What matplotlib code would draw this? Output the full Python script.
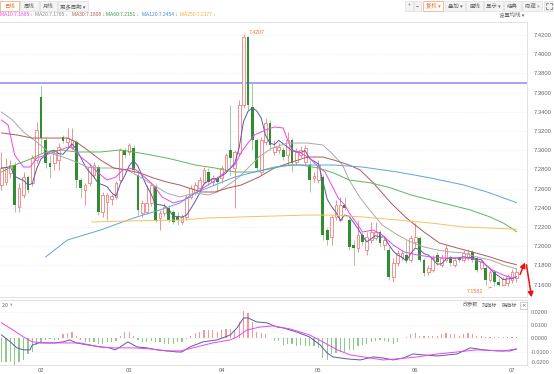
import numpy as np
import pandas as pd
import matplotlib
matplotlib.use("Agg")
from matplotlib import pyplot as plt
from matplotlib.patches import Rectangle, FancyArrowPatch
from matplotlib.lines import Line2D

plt.rcParams['font.family'] = ['Noto Sans CJK SC', 'DejaVu Sans']

# daily candles (Jan 2025 .. early Jul 2025)
opens = [7.2638, 7.2669, 7.2763, 7.2846, 7.2409, 7.2534, 7.2721, 7.2659, 7.2898, 7.3555,
         7.3107, 7.2867, 7.2867, 7.2898, 7.3138, 7.3086, 7.3023, 7.3086, 7.2690, 7.2586,
         7.2659, 7.2742, 7.2825, 7.2357, 7.2461, 7.2492, 7.2513, 7.2690, 7.3003, 7.2982,
         7.3023, 7.2742, 7.2346, 7.2357, 7.2451, 7.2617, 7.2294, 7.2346, 7.2398, 7.2357,
         7.2305, 7.2253, 7.2305, 7.2513, 7.2565, 7.2607, 7.2669, 7.2773, 7.2669, 7.2711,
         7.2711, 7.2794, 7.3003, 7.2815, 7.2971, 7.3471, 7.4180, 7.3450, 7.3107, 7.2773,
         7.3086, 7.3284, 7.2982, 7.3003, 7.3003, 7.2950, 7.3107, 7.2877, 7.2950, 7.2877,
         7.2846, 7.2711, 7.2690, 7.2721, 7.2169, 7.2096, 7.2305, 7.2273, 7.2430, 7.2273,
         7.2013, 7.1982, 7.2117, 7.1961, 7.2065, 7.2086, 7.2148, 7.2013, 7.1961, 7.1680,
         7.1825, 7.1888, 7.1909, 7.1857, 7.2044, 7.2086, 7.1857, 7.1732, 7.1753, 7.1909,
         7.1805, 7.1857, 7.1888, 7.1805, 7.1877, 7.1857, 7.1877, 7.1940, 7.1877, 7.1773,
         7.1773, 7.1648, 7.1732, 7.1627, 7.1596, 7.1617, 7.1648, 7.1669]
closes = [7.2815, 7.2825, 7.2846, 7.2430, 7.2607, 7.2721, 7.2586, 7.2919, 7.3211, 7.3127,
          7.2867, 7.2825, 7.2971, 7.3034, 7.3096, 7.3127, 7.3107, 7.2690, 7.2607, 7.2638,
          7.2825, 7.2846, 7.2357, 7.2534, 7.2534, 7.2523, 7.2659, 7.3003, 7.2950, 7.3055,
          7.2794, 7.2378, 7.2451, 7.2451, 7.2638, 7.2273, 7.2346, 7.2409, 7.2273, 7.2253,
          7.2273, 7.2305, 7.2513, 7.2607, 7.2638, 7.2690, 7.2794, 7.2669, 7.2711, 7.2669,
          7.2815, 7.2950, 7.2919, 7.2982, 7.3471, 7.4180, 7.3471, 7.3107, 7.2815, 7.3107,
          7.3284, 7.3055, 7.3034, 7.3034, 7.2929, 7.3107, 7.2867, 7.2982, 7.3003, 7.3023,
          7.2690, 7.2732, 7.2846, 7.2117, 7.2065, 7.2305, 7.2430, 7.2430, 7.2398, 7.1992,
          7.1982, 7.2117, 7.2044, 7.2096, 7.2148, 7.2148, 7.2034, 7.2065, 7.1680, 7.1825,
          7.1930, 7.1930, 7.1857, 7.2086, 7.2096, 7.1857, 7.1721, 7.1773, 7.1877, 7.1836,
          7.1877, 7.1982, 7.1825, 7.1857, 7.1857, 7.1930, 7.1930, 7.1857, 7.1753, 7.1836,
          7.1648, 7.1732, 7.1627, 7.1596, 7.1659, 7.1690, 7.1732, 7.1732]
highs = [7.2982, 7.2919, 7.2898, 7.2877, 7.2659, 7.2773, 7.2742, 7.2950, 7.3294, 7.3669,
         7.3138, 7.2950, 7.3003, 7.3075, 7.3159, 7.3232, 7.3232, 7.3107, 7.2711, 7.2659,
         7.2867, 7.2877, 7.2846, 7.2565, 7.2555, 7.2544, 7.2680, 7.3023, 7.3023, 7.3075,
         7.3055, 7.2794, 7.2482, 7.2638, 7.2669, 7.2659, 7.2378, 7.2451, 7.2430, 7.2378,
         7.2357, 7.2336, 7.2534, 7.2638, 7.2669, 7.2721, 7.2825, 7.2815, 7.2742, 7.2732,
         7.2846, 7.2971, 7.3471, 7.3003, 7.3523, 7.4207, 7.4190, 7.3700, 7.3127, 7.3138,
         7.3336, 7.3315, 7.3107, 7.3075, 7.3034, 7.3190, 7.3127, 7.3023, 7.3044, 7.3055,
         7.2898, 7.2773, 7.2898, 7.2742, 7.2190, 7.2326, 7.2482, 7.2513, 7.2513, 7.2294,
         7.2065, 7.2273, 7.2148, 7.2148, 7.2253, 7.2253, 7.2169, 7.2096, 7.1992, 7.1877,
         7.1961, 7.1961, 7.2065, 7.2117, 7.2242, 7.2107, 7.1877, 7.1805, 7.1909, 7.1940,
         7.1919, 7.2013, 7.1909, 7.1888, 7.1898, 7.1961, 7.1961, 7.1961, 7.1898, 7.1857,
         7.1794, 7.1753, 7.1753, 7.1669, 7.1680, 7.1711, 7.1763, 7.1773]
lows = [7.2586, 7.2638, 7.2711, 7.2357, 7.2357, 7.2503, 7.2555, 7.2628, 7.2867, 7.2971,
        7.2815, 7.2711, 7.2794, 7.2794, 7.3075, 7.3034, 7.3003, 7.2607, 7.2503, 7.2430,
        7.2628, 7.2711, 7.2326, 7.2305, 7.2273, 7.2430, 7.2492, 7.2669, 7.2919, 7.2950,
        7.2763, 7.2326, 7.2305, 7.2336, 7.2419, 7.2253, 7.2169, 7.2315, 7.2253, 7.2232,
        7.2221, 7.2232, 7.2273, 7.2492, 7.2534, 7.2586, 7.2648, 7.2638, 7.2638, 7.2565,
        7.2659, 7.2773, 7.2742, 7.2398, 7.2940, 7.3440, 7.3419, 7.3003, 7.2773, 7.2742,
        7.3055, 7.3003, 7.2950, 7.2971, 7.2898, 7.2846, 7.2773, 7.2846, 7.2919, 7.2846,
        7.2565, 7.2669, 7.2659, 7.2065, 7.2013, 7.2013, 7.2273, 7.2253, 7.2378, 7.1961,
        7.1805, 7.1940, 7.2013, 7.1909, 7.2034, 7.2065, 7.2003, 7.1961, 7.1648, 7.1627,
        7.1794, 7.1857, 7.1825, 7.1836, 7.1992, 7.1836, 7.1690, 7.1700, 7.1732, 7.1805,
        7.1784, 7.1836, 7.1794, 7.1784, 7.1836, 7.1836, 7.1857, 7.1836, 7.1732, 7.1753,
        7.1596, 7.1627, 7.1582, 7.1586, 7.1586, 7.1586, 7.1617, 7.1627]

# moving averages (candle index, price)
ma10_idx = [0, 1.5, 3, 5, 6.5, 8, 10, 12, 14.5, 16, 18, 19.5, 22, 24, 26, 27.5, 30, 32, 34.5,
            36.5, 39, 41.5, 44, 48, 50.5, 53, 54.5, 56, 57.5, 60, 62, 64, 65, 66, 67.5, 70,
            72, 73.5, 75, 76.5, 78, 79, 81, 82, 84.5, 86.5, 89, 91.5, 94.5, 97.5, 100.5,
            103.5, 106.5, 109.5, 111.5, 114, 116, 117]
ma10_val = [7.3315, 7.3263, 7.2950, 7.2825, 7.2825, 7.2919, 7.2950, 7.2982, 7.3023, 7.3034,
            7.2929, 7.2877, 7.2763, 7.2690, 7.2721, 7.2794, 7.2815, 7.2742, 7.2638, 7.2513,
            7.2451, 7.2482, 7.2555, 7.2669, 7.2763, 7.2846, 7.2982, 7.3075, 7.3159, 7.3211,
            7.3242, 7.3232, 7.3107, 7.3003, 7.2982, 7.2919, 7.2825, 7.2773, 7.2638, 7.2503,
            7.2430, 7.2346, 7.2221, 7.2148, 7.2169, 7.2117, 7.2013, 7.1940, 7.1909, 7.1888,
            7.1877, 7.1877, 7.1877, 7.1825, 7.1753, 7.1700, 7.1669, 7.1685]
ma20_idx = [0, 2.5, 5, 8, 11, 14, 17, 19.5, 22.5, 25.5, 28.5, 31.5, 34.5, 37.5, 40.5, 44, 47,
            49, 51.5, 54, 56, 58.5, 61.5, 65, 69.5, 73, 75, 77.5, 79, 81.5, 84, 86.5, 90, 93,
            96, 99, 102, 105, 108, 111, 114, 117]
ma20_val = [7.3398, 7.3315, 7.3190, 7.3086, 7.2971, 7.2929, 7.2877, 7.2825, 7.2815, 7.2815,
            7.2794, 7.2721, 7.2638, 7.2555, 7.2513, 7.2555, 7.2534, 7.2565, 7.2638, 7.2721,
            7.2815, 7.2930, 7.3023, 7.3075, 7.3075, 7.3055, 7.2971, 7.2846, 7.2690, 7.2503,
            7.2357, 7.2221, 7.2117, 7.2044, 7.1992, 7.1961, 7.1940, 7.1930, 7.1888, 7.1857,
            7.1805, 7.1765]
ma30_idx = [0, 3.5, 7, 11, 15, 17, 19.5, 22.5, 25.5, 28.5, 31.5, 34.5, 37.5, 40.5, 42.5, 45.5,
            48.5, 51.5, 54.5, 58.5, 62, 66, 69.5, 73, 75.5, 79, 81.5, 84.5, 88.5, 92, 96, 99.5,
            103.5, 107, 111, 114.5, 117]
ma30_val = [7.3180, 7.3159, 7.3127, 7.3127, 7.3127, 7.3086, 7.3003, 7.2898, 7.2815, 7.2794,
            7.2763, 7.2711, 7.2669, 7.2638, 7.2607, 7.2565, 7.2565, 7.2607, 7.2638, 7.2721,
            7.2815, 7.2877, 7.2929, 7.2929, 7.2898, 7.2846, 7.2794, 7.2659, 7.2450, 7.2294,
            7.2148, 7.2034, 7.1982, 7.1940, 7.1888, 7.1836, 7.1808]
ma60_idx = [0, 3, 6, 9.5, 13.5, 17, 22.5, 27, 30, 34, 37.5, 39.5, 44, 48.5, 53, 57.5, 62, 65,
            68, 72, 75.5, 79, 84, 88.5, 93, 97.5, 102, 106.5, 111, 114, 116.5, 117]
ma60_val = [7.2773, 7.2846, 7.2898, 7.2971, 7.3003, 7.2982, 7.2982, 7.3003, 7.2982, 7.2950,
            7.2919, 7.2898, 7.2846, 7.2815, 7.2773, 7.2773, 7.2815, 7.2846, 7.2846, 7.2815,
            7.2763, 7.2690, 7.2659, 7.2607, 7.2534, 7.2482, 7.2430, 7.2378, 7.2305, 7.2242,
            7.2169, 7.2151]
ma120_idx = [10, 15, 22.5, 30, 36, 40.5, 44, 48.5, 53, 57.5, 62, 66.5, 71, 75.5, 82, 90, 97.5,
             105, 111, 117]
ma120_val = [7.1888, 7.2065, 7.2169, 7.2294, 7.2378, 7.2450, 7.2555, 7.2638, 7.2721, 7.2773,
             7.2825, 7.2846, 7.2846, 7.2846, 7.2825, 7.2773, 7.2711, 7.2638, 7.2555, 7.2454]
ma250_idx = [20.5, 29, 40.5, 47, 54.5, 62, 69.5, 74.5, 82, 90, 97.5, 105, 111, 117]
ma250_val = [7.2253, 7.2263, 7.2273, 7.2294, 7.2305, 7.2315, 7.2325, 7.2325, 7.2305, 7.2273,
             7.2242, 7.2200, 7.2190, 7.2177]

ma_names = ["MA10", "MA20", "MA30", "MA60", "MA120", "MA250"]
ma_last = ["7.1685", "7.1765", "7.1808", "7.2151", "7.2454", "7.2177"]
ma_colors = ["#ee44ee", "#aaaaaa", "#b05a5a", "#5cb85c", "#5aa5e6", "#f5c060"]
ma_text_colors = ["#ee44ee", "#888888", "#b05a5a", "#3c9c3c", "#3c8ad6", "#f0b030"]

level_line = 7.3705
price_ticks = [7.16, 7.18, 7.20, 7.22, 7.24, 7.26, 7.28, 7.30, 7.32, 7.34, 7.36, 7.38, 7.40, 7.42]

# MACD panel
dif_idx = [0, 2, 3.5, 5, 6.5, 7, 8.5, 12, 14, 15.5, 17, 19.5, 22.5, 24.5, 25.8, 27, 28.7, 30.8,
           33, 35.3, 37.6, 40, 41, 42.8, 45.8, 49, 52, 53.5, 55, 56, 58, 60.3, 62.6, 64, 67,
           70, 72.4, 74, 75.3, 78.5, 81.5, 84.5, 86.7, 89, 91.3, 93.5, 95.8, 99, 103.5, 106.5,
           109.5, 112.6, 115.6, 117]
dif_val = [0.0026, -0.0026, -0.0071, -0.0086, -0.0086, -0.0049, -0.0034, -0.0034, -0.0026,
           -0.0011, -0.0034, -0.0049, -0.0064, -0.0071, -0.0086, -0.0064, -0.0026, -0.0064,
           -0.0071, -0.0086, -0.0094, -0.0102, -0.0102, -0.0064, -0.0026, -0.0011, 0.0026,
           0.0079, 0.0154, 0.0154, 0.0124, 0.0117, 0.0086, 0.0079, 0.0049, 0.0011, -0.0049,
           -0.0109, -0.0139, -0.0154, -0.0162, -0.0139, -0.0147, -0.0162, -0.0147, -0.0117,
           -0.0124, -0.0132, -0.0117, -0.0071, -0.0086, -0.0094, -0.0094, -0.0079]
dea_idx = [0, 2.6, 5, 7, 10.3, 14.9, 17.8, 22.4, 25.4, 29.9, 33.8, 37.6, 40.6, 43.5, 48, 52,
           53.5, 55.8, 58.8, 61.7, 65.6, 70, 73, 76.3, 79.2, 82.2, 86.7, 89.9, 94.4, 99, 103.5,
           108, 114, 117]
dea_val = [0.0117, 0.0064, 0.0011, -0.0026, -0.0034, -0.0034, -0.0034, -0.0064, -0.0071,
           -0.0071, -0.0079, -0.0094, -0.0094, -0.0071, -0.0034, -0.0011, 0.0011, 0.0064,
           0.0086, 0.0094, 0.0071, 0.0026, -0.0026, -0.0086, -0.0124, -0.0139, -0.0162,
           -0.0154, -0.0139, -0.0117, -0.0102, -0.0086, -0.0094, -0.0079]
macd_hist = [-0.018, -0.018, -0.018, -0.020, -0.018, -0.016, -0.012, -0.010, -0.005, -0.003,
             -0.001, -0.0005, -0.001, -0.001, 0.003, 0.004, 0.005, 0.002, -0.001, -0.003,
             -0.003, -0.003, -0.004, -0.004, -0.003, -0.003, -0.002, 0.002, 0.005, 0.005,
             0.002, -0.001, -0.003, -0.003, -0.002, -0.003, -0.003, -0.004, -0.004, -0.004,
             -0.003, -0.003, -0.0005, 0.002, 0.004, 0.005, 0.006, 0.006, 0.006, 0.005,
             0.006, 0.007, 0.007, 0.006, 0.012, 0.021, 0.019, 0.012, 0.005, 0.004,
             0.003, 0.0003, -0.002, -0.002, -0.005, -0.004, -0.004, -0.006, -0.005, -0.006,
             -0.006, -0.006, -0.007, -0.015, -0.016, -0.012, -0.011, -0.010, -0.010, -0.009,
             -0.009, -0.006, -0.005, -0.004, -0.003, -0.002, -0.001, -0.002, -0.003, -0.004,
             -0.003, 0.0003, 0.001, 0.003, 0.004, 0.002, 0.002, 0.002, 0.002, 0.002,
             0.003, 0.004, 0.003, 0.003, 0.002, 0.003, 0.004, 0.003, 0.002, 0.002,
             0.001, 0.001, 0.001, 0.001, 0.001, 0.001, 0.001, 0.001]
macd_ticks = [-0.02, -0.01, 0.0, 0.01, 0.02]

month_pos = [9, 29, 50, 72, 94, 116]
month_labels = ["02", "03", "04", "05", "06", "07"]

W, H = 554, 374
UP = "#f08080"
DOWN = "#2f8f2f"
DOWN_WICK = "#8cc98c"
GRID = "#e4e4e4"
TXT = "#666666"
NUM_FONT = ["Liberation Sans", "DejaVu Sans"]


def fx(px):
    return px / W


def fy(py):
    return 1 - py / H


def button(fig, x0, x1, label, color=TXT, edge="#dddddd", face="#f4f4f4"):
    fig.add_artist(Rectangle((fx(x0), fy(11)), fx(x1 - x0), 10 / H, transform=fig.transFigure,
                             facecolor=face, edgecolor=edge, lw=0.5))
    if label:
        fig.text(fx((x0 + x1) / 2), fy(6), label, ha="center", va="center", fontsize=3.9,
                 color=color)


def main():
    o = np.array(opens)
    c = np.array(closes)
    h = np.array(highs)
    l = np.array(lows)
    x = np.arange(len(c))
    up = c >= o
    ma5 = pd.Series(c).rolling(5, min_periods=1).mean()

    fig = plt.figure(figsize=(W / 100, H / 100), dpi=100)
    fig.patch.set_facecolor("white")

    # price panel
    ax = fig.add_axes([0, 77 / H, 527 / W, 275 / H])
    ax.set_xlim(-0.34, 119.4)
    ax.set_ylim(7.1471, 7.4336)
    ax.vlines(x[up], l[up], h[up], color=UP, lw=0.6, zorder=3)
    ax.vlines(x[~up], l[~up], h[~up], color=DOWN_WICK, lw=0.6, zorder=3)
    body_up = np.maximum((c - o)[up], 0.0004)
    ax.bar(x[up], body_up, bottom=o[up], width=0.62, facecolor="white", edgecolor=UP,
           lw=0.6, zorder=4)
    body_dn = np.maximum((o - c)[~up], 0.0004)
    ax.bar(x[~up], body_dn, bottom=c[~up], width=0.62, color=DOWN, lw=0, zorder=4)

    ax.plot(x, ma5, color="#5a5aa8", lw=0.7, zorder=5)
    for idx, val, col in [(ma10_idx, ma10_val, ma_colors[0]), (ma20_idx, ma20_val, ma_colors[1]),
                          (ma30_idx, ma30_val, ma_colors[2]), (ma60_idx, ma60_val, ma_colors[3]),
                          (ma120_idx, ma120_val, ma_colors[4]), (ma250_idx, ma250_val, ma_colors[5])]:
        ax.plot(idx, val, color=col, lw=0.7, zorder=5)

    ax.axhline(level_line, color="#9a9aff", lw=1.3, zorder=2)

    imax = int(np.argmax(h))
    imin = int(np.argmin(l))
    ax.annotate(f"{h[imax]:.4f}", xy=(imax, h[imax]), xytext=(4, 1), textcoords="offset points",
                fontsize=3.8, color="#f07030", va="center", family=NUM_FONT,
                arrowprops=dict(arrowstyle="-", color="#f07030", lw=0.5))
    ax.annotate(f"{l[imin]:.4f}", xy=(imin, l[imin]), xytext=(-14, -4), textcoords="offset points",
                fontsize=3.8, color="#f07030", va="center", ha="center", family=NUM_FONT,
                arrowprops=dict(arrowstyle="-", color="#f07030", lw=0.5))

    ax.yaxis.tick_right()
    ax.set_yticks(price_ticks)
    ax.set_yticklabels([f"{v:.4f}" for v in price_ticks], family=NUM_FONT)
    ax.tick_params(axis="y", length=0, pad=5, labelsize=4.2, labelcolor=TXT)
    ax.set_xticks([])
    ax.grid(axis="y", color=GRID, lw=0.5, ls=(0, (1, 2)))
    ax.spines["left"].set_visible(False)
    for s in ["top", "right", "bottom"]:
        ax.spines[s].set_color("#dddddd")
        ax.spines[s].set_linewidth(0.6)

    # MACD panel
    mx = fig.add_axes([0, 9 / H, 527 / W, 65 / H])
    mx.set_xlim(-0.34, 119.4)
    mx.set_ylim(-0.0199, 0.0289)
    hist = np.array(macd_hist)
    cols = np.where(hist >= 0, "#f29a9a", "#8cc98c")
    mx.bar(x, hist, width=0.28, color=cols, lw=0, zorder=3)
    mx.plot(dif_idx, dif_val, color="#5a5aa8", lw=0.7, zorder=4)
    mx.plot(dea_idx, dea_val, color="#ee44ee", lw=0.7, zorder=4)
    mx.yaxis.tick_right()
    mx.set_yticks(macd_ticks)
    mx.set_yticklabels([f"{v:.4f}" for v in macd_ticks], family=NUM_FONT)
    mx.tick_params(axis="y", length=0, pad=3, labelsize=3.9, labelcolor=TXT)
    for t in mx.get_yticklabels():
        if t.get_text() == "-0.0200":
            t.set_va("bottom")
    mx.set_xticks(month_pos)
    mx.set_xticklabels(month_labels, family=NUM_FONT)
    mx.tick_params(axis="x", length=0, pad=2, labelsize=4.2, labelcolor=TXT)
    mx.grid(axis="y", color=GRID, lw=0.5, ls=(0, (1, 2)))
    mx.spines["left"].set_visible(False)
    for s in ["top", "right", "bottom"]:
        mx.spines[s].set_color("#dddddd")
        mx.spines[s].set_linewidth(0.6)
    mx.text(0.004, 0.92, "20 ⇡", transform=mx.transAxes, fontsize=3.8, color=TXT, va="center")
    for lbl, px in [("改参数", 470), ("加指标", 490), ("换指标", 509)]:
        fig.text(fx(px), fy(305), lbl, ha="center", va="center", fontsize=3.7, color=TXT)
    fig.add_artist(Rectangle((fx(520), fy(309)), fx(7), 7 / H, transform=fig.transFigure,
                             facecolor="white", edgecolor="#bbbbbb", lw=0.5))
    fig.text(fx(523.5), fy(305.5), "×", ha="center", va="center", fontsize=3.8, color=TXT,
             family=["DejaVu Sans"])

    # toolbar
    button(fig, 0, 19, "日线", color="#f07030", edge="#f0a070", face="white")
    button(fig, 20, 39, "周线")
    button(fig, 40, 57, "月线")
    button(fig, 58, 88, "更多周期 ▾")
    button(fig, 405, 413, "+")
    button(fig, 414, 421, "−")
    button(fig, 423, 443, "复权 ▾", color="#f07030", edge="#f0a070", face="white")
    button(fig, 445, 465, "叠加 ▾")
    button(fig, 466, 483, "画线")
    button(fig, 484, 503, "显示 ▾")
    button(fig, 504, 521, "经典")
    button(fig, 522, 542, "隐藏 »")
    button(fig, 544, 554, "")
    # full-screen icon: four small corners
    for cx, cy, dx, dy in [(546, 3, 1, 1), (552, 3, -1, 1), (546, 9, 1, -1), (552, 9, -1, -1)]:
        fig.add_artist(Line2D([fx(cx), fx(cx), fx(cx + 2 * dx)],
                              [fy(cy + 2 * dy), fy(cy), fy(cy)],
                              transform=fig.transFigure, color=TXT, lw=0.5))
    fig.text(fx(512), fy(15), "设置均线 ▾", ha="center", va="center", fontsize=3.9, color=TXT)

    # moving-average legend
    legend_x = [0, 35, 72, 106, 142, 180]
    for px, name, val, col in zip(legend_x, ma_names, ma_last, ma_text_colors):
        fig.text(fx(px), fy(15), f"{name}:{val} ↓", ha="left", va="center", fontsize=3.5,
                 color=col, family=NUM_FONT)

    # red arrows
    fig.add_artist(FancyArrowPatch((fx(519), fy(277)), (fx(526), fy(260)),
                                   transform=fig.transFigure, arrowstyle="-|>,head_length=3,head_width=1.6",
                                   color="#ee1111", lw=1.1))
    fig.add_artist(FancyArrowPatch((fx(526), fy(262)), (fx(532), fy(300)),
                                   transform=fig.transFigure, arrowstyle="-|>,head_length=3,head_width=1.6",
                                   color="#ee1111", lw=1.1))

    fig.savefig("out.png", dpi=100)


if __name__ == "__main__":
    main()
